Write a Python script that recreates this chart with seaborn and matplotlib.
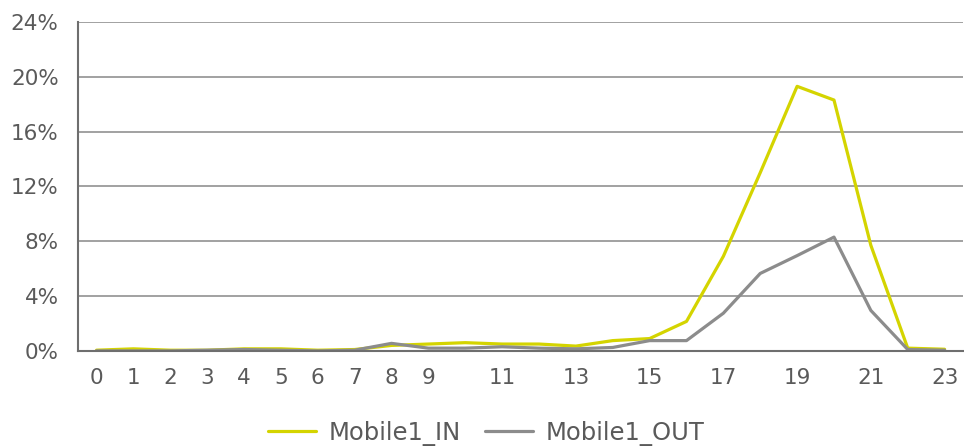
import numpy as np
import pandas as pd
import seaborn as sns
import matplotlib.pyplot as plt
from matplotlib.ticker import FixedLocator, FuncFormatter

horas = list(range(24))
mobile_in = [0.05, 0.15, 0.05, 0.05, 0.15, 0.15, 0.05, 0.1, 0.4, 0.5, 0.6, 0.5,
             0.5, 0.35, 0.75, 0.9, 2.15, 6.9, 13.0, 19.3, 18.3, 7.7, 0.2, 0.12]
mobile_out = [0.0, 0.0, 0.0, 0.05, 0.1, 0.05, 0.0, 0.05, 0.55, 0.2, 0.2, 0.3,
              0.2, 0.15, 0.25, 0.75, 0.75, 2.75, 5.65, 6.95, 8.3, 2.95, 0.1, 0.05]
series = ['Mobile1_IN', 'Mobile1_OUT']
cores = ['#d4d400', '#8c8c8c']
y_ticks = [0, 4, 8, 12, 16, 20, 24]

df = pd.DataFrame({'Hora': horas * 2,
                   'Valor': mobile_in + mobile_out,
                   'Serie': [series[0]] * 24 + [series[1]] * 24})

sns.set_style('white')
plt.rcParams['font.family'] = ['DejaVu Sans']
fs = 15.5
cor_txt = '#5a5a5a'

fig = plt.figure(figsize=(9.64, 4.47), dpi=100)
ax = fig.add_axes([0.081, 0.215, 0.918, 0.736])

# linhas de grade primeiro
for t in y_ticks[1:]:
    ax.axhline(t, color='#9a9a9a', lw=1.3, zorder=1)

sns.lineplot(data=df, x='Hora', y='Valor', hue='Serie', palette=cores,
             linewidth=2.3, ax=ax, zorder=3)

ax.set_xlim(-0.5, 23.5)
ax.set_ylim(0, 24)
ax.set_xlabel('')
ax.set_ylabel('')

# eixo x: rótulos nas categorias, marcas entre elas
ax.xaxis.set_major_locator(FixedLocator(horas))
rotulos = [str(h) if (h < 10 or h % 2 == 1) else '' for h in horas]
ax.set_xticklabels(rotulos)
ax.xaxis.set_minor_locator(FixedLocator(np.arange(-0.5, 24, 1)))
ax.tick_params(axis='x', which='major', length=0, pad=12, labelsize=fs, labelcolor=cor_txt)
ax.tick_params(axis='x', which='minor', length=15, direction='inout', color='#c8c8c8', width=1.3)

ax.set_yticks(y_ticks)
ax.yaxis.set_major_formatter(FuncFormatter(lambda v, p: f'{int(v)}%'))
ax.tick_params(axis='y', length=7, color='#c8c8c8', width=1.3, pad=7, labelsize=fs, labelcolor=cor_txt)

for lado in ['top', 'right']:
    ax.spines[lado].set_visible(False)
for lado in ['left', 'bottom']:
    ax.spines[lado].set_color('#6e6e6e')
    ax.spines[lado].set_linewidth(1.5)
    ax.spines[lado].set_zorder(4)

# legenda abaixo do gráfico
leg = ax.legend(loc='center', bbox_to_anchor=(0.461, -0.25), ncol=2, frameon=False,
                fontsize=17.5, handlelength=2.0, columnspacing=1.0, handletextpad=0.5,
                borderpad=0, borderaxespad=0)
for txt in leg.get_texts():
    txt.set_color(cor_txt)

plt.savefig('out.png', dpi=100)
